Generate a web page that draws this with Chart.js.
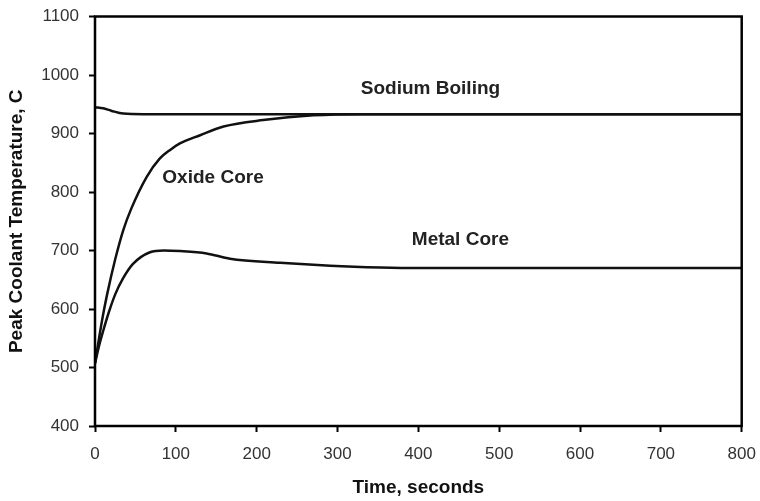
<!DOCTYPE html>
<html>
<head>
<meta charset="utf-8">
<script src="https://cdn.jsdelivr.net/npm/chart.js@4.4.1/dist/chart.umd.min.js"></script>
<style>
  body { margin: 0; background: #fff; }
  #wrap { width: 760px; height: 501px; position: relative; }
</style>
</head>
<body>
<div id="wrap"><canvas id="chart"></canvas></div>
<script>
// values
const sodium_time = [0, 10, 20, 35, 60, 100, 200, 400, 600, 800];
const sodium_temp = [945, 943, 939, 934, 933, 933, 933, 933, 933, 933];

const oxide_time = [0, 5, 10, 15, 25, 35, 45, 64, 80, 93, 105, 130, 159, 208, 270, 330, 400, 600, 800];
const oxide_temp = [507, 550, 590, 625, 685, 735, 772, 826, 857, 872, 883, 897, 912, 923, 931, 933, 933, 933, 933];

const metal_time = [0, 5, 10, 17, 25, 35, 47, 68, 85, 105, 138, 167, 229, 291, 353, 400, 500, 600, 800];
const metal_temp = [507, 537, 562, 594, 625, 653, 677, 697, 700, 699, 695, 686, 679, 674, 671, 670, 670, 670, 670];

const curve_labels = ['Sodium Boiling', 'Oxide Core', 'Metal Core'];
const label_time = [415, 146, 452];
const label_temp = [976, 824, 718];

const x_min = 0, x_max = 800, x_step = 100;
const y_min = 400, y_max = 1100, y_step = 100;

const font_family = '"Liberation Sans", Arial, sans-serif';

function toPoints(xs, ys) {
  return xs.map(function (v, i) { return { x: v, y: ys[i] }; });
}

function lineSet(label, xs, ys) {
  return {
    label: label,
    data: toPoints(xs, ys),
    borderColor: '#111111',
    borderWidth: 2.5,
    pointRadius: 0,
    fill: false,
    cubicInterpolationMode: 'monotone'
  };
}

// frame round the plot area and the curve names
const frameAndLabels = {
  id: 'frameAndLabels',
  afterDatasetsDraw(chart) {
    const ctx = chart.ctx;
    const a = chart.chartArea;
    const xs = chart.scales.x, ys = chart.scales.y;
    ctx.save();
    ctx.strokeStyle = '#000';
    ctx.lineWidth = 2.5;
    ctx.strokeRect(a.left, a.top, a.right - a.left, a.bottom - a.top);
    ctx.font = 'bold 19px ' + font_family;
    ctx.fillStyle = '#222';
    ctx.textAlign = 'center';
    ctx.textBaseline = 'middle';
    for (var i = 0; i < curve_labels.length; i++) {
      ctx.fillText(curve_labels[i], xs.getPixelForValue(label_time[i]), ys.getPixelForValue(label_temp[i]));
    }
    ctx.restore();
  }
};

const plainTick = function (v) { return String(v); };

new Chart(document.getElementById('chart'), {
  type: 'line',
  data: {
    datasets: [
      lineSet('Sodium Boiling', sodium_time, sodium_temp),
      lineSet('Oxide Core', oxide_time, oxide_temp),
      lineSet('Metal Core', metal_time, metal_temp)
    ]
  },
  options: {
    responsive: true,
    maintainAspectRatio: false,
    animation: false,
    layout: { padding: { top: 16.5, right: 18.3, left: 0, bottom: 0 } },
    plugins: {
      legend: { display: false },
      tooltip: { enabled: false }
    },
    scales: {
      x: {
        type: 'linear',
        min: x_min,
        max: x_max,
        afterFit: function (s) { s.height = 75; s.paddingLeft = 0; s.paddingRight = 0; },
        grid: { display: true, drawOnChartArea: false, drawTicks: true, tickLength: 6, tickWidth: 2, tickColor: '#000' },
        border: { display: false },
        ticks: { stepSize: x_step, padding: 12, color: '#333', callback: plainTick, font: { family: font_family, size: 17 } },
        title: { display: true, text: 'Time, seconds', color: '#111', padding: { top: 0, bottom: 2 }, font: { family: font_family, size: 19, weight: 'bold' } }
      },
      y: {
        min: y_min,
        max: y_max,
        afterFit: function (s) { s.width = 95; s.paddingTop = 0; s.paddingBottom = 0; },
        grid: { display: true, drawOnChartArea: false, drawTicks: true, tickLength: 6, tickWidth: 2, tickColor: '#000' },
        border: { display: false },
        ticks: { stepSize: y_step, padding: 10, color: '#333', callback: plainTick, font: { family: font_family, size: 17 } },
        title: { display: true, text: 'Peak Coolant Temperature, C', color: '#111', padding: { top: 5, bottom: 0 }, font: { family: font_family, size: 19, weight: 'bold' } }
      }
    }
  },
  plugins: [frameAndLabels]
});
</script>
</body>
</html>
